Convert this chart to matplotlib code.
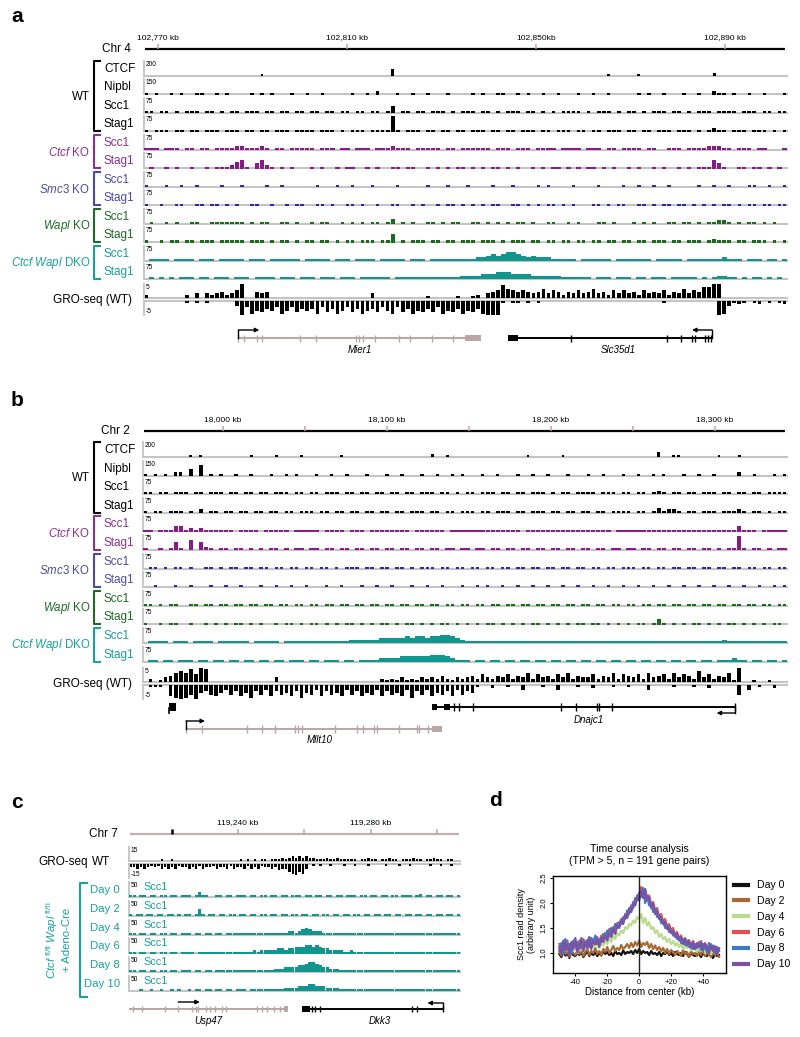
"""Genome browser tracks (a-c) and a Scc1 time-course metaplot (d)."""
import matplotlib.pyplot as plt
from matplotlib.lines import Line2D
import numpy as np

plt.rcParams["font.family"] = ["Liberation Sans", "DejaVu Sans"]
plt.rcParams["mathtext.fontset"] = "custom"
plt.rcParams["mathtext.rm"] = "Liberation Sans"
plt.rcParams["mathtext.it"] = "Liberation Sans:italic"
plt.rcParams["mathtext.bf"] = "Liberation Sans:bold"

# ---------------------------------------------------------------- data ----
# signal strings: one digit per genomic bin, 0 (empty) .. 9 (track full scale)
TRACK_NAMES = ["CTCF", "Nipbl", "Scc1", "Stag1", "Scc1", "Stag1",
               "Scc1", "Stag1", "Scc1", "Stag1", "Scc1", "Stag1"]
TRACK_SCALES = ["200", "150", "75", "75", "75", "75", "75", "75", "75", "75", "75", "75"]
GROUP_NAMES = ["WT", r"$\mathit{Ctcf}$ KO", r"$\mathit{Smc3}$ KO",
               r"$\mathit{Wapl}$ KO", r"$\mathit{Ctcf\ Wapl}$ DKO"]
GROUP_SIZES = [4, 2, 2, 2, 2]

# panel a, chr4
A_SPAN = (102767.0, 102903.1)
A_TICKS = [102770, 102810, 102850, 102890]
A_TICK_LABELS = ["102,770 kb", "102,810 kb", "102,850kb", "102,890 kb"]
A_SIGNAL = [
    "00000000000000000000000100000000" "00000000000000000400000000000000" "00000000000000000000000000001000" "00100000000000000200000000000000",
    "10100101001100101000010101000100" "10010000010010200010010010001000" "01010011001010010010001001001000" "00101001000100100211010010010001",
    "11011010111011010110111011011011" "01101101101101101401101101110101" "11011010111011010101111010111010" "11010111011010111011110111011011",
    "10111011011011101110110110111011" "11011101011101111910111011011011" "01110110110111011011101101101110" "11011011101110101211011101110101",
    "11101110110110111122111210110111" "11011101101110111211101111101101" "11111011101110111101111011101101" "11101100111011112221101110110001",
    "01001010010010111245103521010100" "01010010110010100110110010101011" "01010110101001010110101011010100" "10100101001010111531001101101010",
    "10001001001000010001000010010000" "00100010010001000010000010001000" "10000100010000101000010000100001" "00100100100000100100100011001001",
    "10010011001101101010011001001011" "00110100110100100110010100101101" "01010110011010101101010001101011" "00110101101101010101101011011011",
    "01001010011001111111010110011010" "01011001010101101301010011010110" "01101010101101001100101000110100" "01010100110110101122101011010100",
    "10010110110111011111011101011010" "11011010110111011501011101101101" "11011101011101101101101101101101" "10110111011011101211101101110101",
    "01111011110111011111011101111110" "11111011101111011111011101111111" "11223434554323222111110111111011" "11111011111011111112111011101101",
    "01010101110110111011101111011101" "11011101110111111011111111111112" "22233344433332222221111110111011" "10110111011111010122110101101010",
]
A_GRO_POS = "20000000203032342359004340000000" "00000000000003000000000010000010" "01203458654543463542435346342535" "34253435243635477990000000000000"
A_GRO_NEG = "00000000101010000039486756486475" "65847586475865746847586757486758" "67589991011010100000000000000000" "00000001000000000098312101201012"
MIER1 = dict(start=102787.0, end=102838.3, utr=(102835.0, 102838.3),
             exons=[102787.0, 102788.2, 102790.9, 102791.9, 102800.0, 102803.4, 102811.9,
                    102812.6, 102813.4, 102815.9, 102821.0, 102823.3, 102828.0, 102832.4])
SLC35D1 = dict(start=102844.1, end=102887.2, utr=(102844.1, 102846.2),
               exons=[102857.4, 102877.7, 102880.7, 102883.0, 102883.7, 102885.8, 102886.3, 102887.0])

# panel b, chr2
B_SPAN = (17951.2, 18343.9)
B_TICKS = [18000, 18050, 18100, 18150, 18200, 18250, 18300]
B_TICK_LABELS = ["18,000 kb", "", "18,100 kb", "", "18,200 kb", "", "18,300 kb"]
B_SIGNAL = [
    "00000000010100000000010000100001" "00000001000000000000000002001000" "00000000000010000001000000000000" "00000030011000000010001000000000",
    "10101022040601010010010001001010" "00100100100010001001000100100101" "00010010001001001000100010010001" "00100101000100100100002001000101",
    "11011011101101110110110110111011" "01101110110110110110110111011010" "11011101101101110101101111011101" "10110121011011011101101101101111",
    "10110111010201101101101101101101" "11011011011011011011011101101101" "11011011101101110110110110110111" "10110131221011011101112101101011",
    "11011133121211111101111011111011" "11101111011101111111101111110111" "11111111111011111111111111111011" "11111111111111111111113111011111",
    "10010151060521011011010101101011" "01101101101101101101101101101101" "10110110110110110110110110110110" "11011011011011011010118101101011",
    "01101011010011010110110110110110" "11011010111011011011010111011011" "01101101101101101101101101101101" "11011011011011011011011011011011",
    "00100010010001001001000100100100" "10001001000100100100010010010001" "00101001001001001001001001001001" "00100100100100100100100100100101",
    "11010110011011011011011011011011" "01101101101101101101101101101101" "10110110110110110110110110110110" "11011011011011011011011011011011",
    "10010110010010101011010100101101" "01101010110101011010110101011010" "10101101010101101010101101101010" "10110131010101101010110101010110",
    "01111011101111011111101111101111" "11111111122222233333434434455432" "11111111111111111111111111111111" "11111111111111111112111111111111",
    "01101101110110110110110110110111" "01101110110111122223333334443211" "10110110110110110110110110110110" "11011011011011011011121101101101",
]
B_GRO_POS = "02013467685980000000000000300000" "00000000000000021213121323242132" "34253243524362534253624335243625" "43526345263542735243619001001000"
B_GRO_NEG = "01110789869546753647584637465748" "56374657364756374657384637564736" "45100200100300010030001002000100" "10003000010001002000006030100200"
SMALL_GENE = (17967.0, 17971.3)
MLLT10 = dict(start=17977.4, end=18133.5, utr=(18127.4, 18133.5),
              exons=[17977.4, 17987.2, 18014.6, 18023.8, 18031.7, 18043.9, 18045.7, 18048.2, 18068.3,
                     18081.7, 18085.4, 18092.1, 18093.9, 18107.3, 18118.3, 18119.5, 18125.0])
DNAJC1 = dict(start=18127.4, end=18312.2, utr=(18127.4, 18130.5), utr2=(18134.8, 18138.4),
              exons=[18140.9, 18143.9, 18152.4, 18206.1, 18215.2, 18228.0, 18229.3, 18237.2, 18312.2])

# panel c, chr7 time course
C_SPAN = (119207.2, 119306.8)
C_TICKS = [119240, 119260, 119280, 119300]
C_TICK_LABELS = ["119,240 kb", "", "119,280 kb", ""]
C_MARK = 119220
DAYS = ["Day 0", "Day 2", "Day 4", "Day 6", "Day 8", "Day 10"]
C_SIGNAL = [
    "11011011011011011101311001101101" "11011011011011011101101101101101" "11011011011011011101201101101101",
    "10110110110110101101410110110110" "11011011011011011011011011011011" "01101101101101101101101101101101",
    "11011011011011011101101101101111" "11111111111111221234322211111111" "11111111111111111111111111111111",
    "11011011011011011110111111111111" "11112122222332334445545433222211" "21111111111111111111111111111111",
    "11011011011011011101101101111111" "11111111112223333445665433222111" "11111111111111111111111111111111",
    "00010010010010100101101101101101" "11011111111112222333443332222111" "11111111111111111111111111111111",
]
C_GRO_POS = "00000000010010000000000000000000" "10101011011121232323221112112111" "11011211011211011121101121101100"
C_GRO_NEG = "22323212132323122323132213223132" "23132312232433567563010100100010" "01000100001000100100000100100100"
USP47 = dict(start=119207.2, end=119255.0, utr=(119253.8, 119255.0),
             exons=[119208.4, 119211.1, 119218.0, 119222.0, 119226.2, 119227.4, 119228.0, 119230.4,
                    119231.6, 119233.1, 119235.2, 119236.4, 119245.7, 119247.2, 119248.7, 119250.8, 119252.6])
DKK3 = dict(start=119259.2, end=119301.7, utr=(119259.2, 119261.7),
            exons=[119262.3, 119263.2, 119264.7, 119292.3, 119293.8, 119301.7])

# panel d, Scc1 density around convergent gene pairs (values x 100)
D_DAYS = ["Day 0", "Day 2", "Day 4", "Day 6", "Day 8", "Day 10"]
DAY0 = [98, 92, 104, 95, 100, 90, 102, 96, 94, 100, 96, 102, 92, 98, 104, 94, 100, 96, 102, 94,
        100, 95, 104, 98, 102, 96, 100, 94, 104, 98, 100, 96, 105, 98, 102, 100, 104, 98, 106, 100,
        108, 98, 104, 100, 102, 96, 104, 98, 100, 96, 102, 94, 100, 98, 104, 96, 100, 94, 102, 98,
        96, 100, 94, 102, 98, 92, 100, 96, 94, 100, 98, 92, 100, 96, 94, 102, 96, 90, 98, 94, 96]
DAY2 = [102, 95, 108, 98, 104, 92, 106, 100, 96, 104, 98, 106, 94, 102, 108, 96, 104, 100, 110, 98,
        104, 96, 108, 102, 112, 100, 106, 114, 104, 110, 106, 116, 108, 112, 118, 110, 120, 112, 122, 115,
        125, 112, 120, 116, 122, 110, 118, 108, 115, 106, 112, 104, 110, 100, 108, 98, 106, 102, 96, 104,
        100, 94, 106, 98, 102, 92, 104, 98, 100, 94, 102, 96, 108, 94, 100, 98, 92, 104, 96, 100, 92]
DAY4 = [108, 100, 115, 104, 112, 98, 118, 105, 110, 100, 112, 105, 118, 108, 115, 110, 120, 112, 118, 115,
        110, 120, 115, 125, 118, 130, 122, 135, 128, 140, 135, 145, 140, 152, 148, 158, 155, 165, 160, 172,
        168, 178, 160, 170, 155, 162, 148, 152, 140, 145, 132, 138, 128, 132, 122, 128, 118, 124, 115, 120,
        112, 118, 108, 115, 110, 120, 105, 112, 108, 102, 110, 104, 115, 100, 108, 112, 98, 106, 110, 100, 104]
DAY6 = [118, 102, 115, 108, 125, 100, 118, 112, 120, 105, 125, 110, 128, 118, 122, 130, 115, 128, 122, 132,
        120, 135, 128, 140, 130, 148, 140, 152, 145, 160, 155, 168, 162, 178, 172, 190, 185, 202, 198, 212,
        218, 232, 215, 225, 208, 215, 196, 202, 185, 190, 170, 178, 162, 168, 152, 158, 145, 150, 135, 142,
        128, 135, 120, 130, 118, 126, 112, 124, 110, 120, 115, 124, 108, 120, 112, 104, 118, 106, 114, 100, 110]
DAY8 = [105, 120, 100, 128, 110, 118, 98, 125, 112, 122, 108, 130, 115, 122, 126, 112, 130, 120, 135, 118,
        128, 122, 138, 130, 145, 135, 150, 142, 158, 150, 162, 158, 172, 168, 185, 178, 195, 190, 210, 205,
        220, 212, 230, 200, 215, 195, 200, 182, 188, 172, 175, 160, 165, 150, 155, 142, 146, 135, 140, 128,
        132, 120, 128, 116, 125, 112, 120, 108, 118, 110, 122, 106, 118, 112, 102, 120, 108, 115, 100, 112, 104]
DAY10 = [112, 98, 125, 105, 118, 95, 122, 108, 130, 101, 115, 126, 104, 120, 110, 132, 108, 124, 117, 128,
         112, 130, 122, 135, 125, 140, 132, 148, 138, 155, 150, 165, 158, 175, 170, 188, 182, 200, 195, 215,
         205, 225, 210, 228, 205, 212, 190, 198, 178, 184, 168, 172, 158, 162, 148, 152, 140, 144, 132, 138,
         125, 132, 118, 128, 115, 124, 110, 122, 108, 118, 112, 120, 105, 118, 110, 100, 115, 104, 112, 98, 108]

# ------------------------------------------------------------- styles ----
GRAY = "#c4c4c4"
PINK = "#c9a3a3"
GENE_GRAY = "#b9a6a6"
LABEL_COLORS = ["black", "#8e2f8e", "#4a4aaa", "#1e6a26", "#18a09a"]
SIGNAL_COLORS = ["black", "#8a1a8a", "#2b2b9e", "#1a6b1a", "#10968f"]
BAR_WIDTHS = [0.55, 0.7, 0.75, 0.75, 0.85, 0.85, 0.7, 0.7, 0.75, 0.75, 1.0, 1.0]
TEAL = "#18a09a"
D_COLORS = ["#111111", "#a86a35", "#b8dc8c", "#e05050", "#3b7cc4", "#7b52a6"]

W, H = 800, 1037
fig = plt.figure(figsize=(W / 100, H / 100), dpi=100)

# overlay in pixel coordinates for labels and brackets
ov = fig.add_axes([0, 0, 1, 1])
ov.set_xlim(0, W)
ov.set_ylim(H, 0)
ov.set_axis_off()


def px_axes(x0, y0, x1, y1):
    ax = fig.add_axes([x0 / W, 1 - y1 / H, (x1 - x0) / W, (y1 - y0) / H])
    ax.set_axis_off()
    return ax


def track(x0, x1, base, span, levels, color, scale, h=16, down=False, width=1.0):
    v = np.array([int(c) for c in levels], dtype=float)
    edges = np.linspace(span[0], span[1], len(v) + 1)
    step = edges[1] - edges[0]
    on = v > 0
    left = edges[:-1][on] + step * (1 - width) / 2
    if down:
        ax = px_axes(x0, base - 1, x1, base + h)
        ax.set_ylim(-9, 0.6)
        ax.bar(left, -(v[on] * 0.95 + 0.2), bottom=0.2,
               width=step * width, align="edge", color=color, linewidth=0, zorder=3)
        ax.vlines(span[0], -9, 0, color=GRAY, lw=1.3, clip_on=False)
        ov.text(x0 + 2, base + h - 1, scale, fontsize=4.8, va="bottom", ha="left")
    else:
        ax = px_axes(x0, base - h, x1, base + 1)
        ax.set_ylim(-0.6, 9)
        ax.bar(left, v[on] * 0.95 + 0.2, bottom=-0.2,
               width=step * width, align="edge", color=color, linewidth=0, zorder=3)
        ax.vlines(span[0], 0, 9, color=GRAY, lw=1.3, clip_on=False)
        ov.text(x0 + 2, base - h + 1, scale, fontsize=4.8, va="top", ha="left")
    ax.set_xlim(span)
    ax.axhline(0, color=GRAY, lw=1.5, zorder=1, clip_on=False)
    return ax


def chrom_axis(x0, x1, y, span, ticks, labels, chrom, line_color="black", mark=None, chrom_x=None):
    ax = px_axes(x0, y - 20, x1, y + 3)
    ax.set_xlim(span)
    ax.set_ylim(y + 3, y - 20)
    ax.plot([span[0] + (span[1] - span[0]) * 0.002, span[1] - (span[1] - span[0]) * 0.003], [y, y],
            color=line_color, lw=1.6, solid_capstyle="butt")
    ax.vlines(ticks, y - 5, y, color=PINK, lw=1.1)
    for t, lab in zip(ticks, labels):
        ax.text(t, y - 11, lab, ha="center", va="center", fontsize=6.0)
    if mark is not None:
        ax.vlines([mark], y - 5, y, color="black", lw=1.8)
    ov.text(chrom_x if chrom_x else x0 - 13, y, chrom, ha="right", va="center", fontsize=8.5)


def gene(ax, g, y, color, half=3.5, label=None, label_y=None, label_x=None):
    ax.plot([g["start"], g["end"]], [y, y], color=color, lw=1.4, solid_capstyle="butt")
    ax.vlines(g["exons"], y - half, y + half, color=color, lw=1.0)
    for key in ("utr", "utr2"):
        if key in g:
            a, b = g[key]
            ax.fill_between([a, b], y - 3, y + 3, color=color, linewidth=0)
    if label:
        lx = label_x if label_x is not None else (g["start"] + g["end"]) / 2
        ax.text(lx, label_y, label, ha="center", va="center", fontsize=7, style="italic")


def tss_arrow(ax, x, tip, y_gene, y_arrow, color="black"):
    ax.plot([x, x], [y_gene, y_arrow], color=color, lw=1.0)
    ax.annotate("", xy=(tip, y_arrow), xytext=(x, y_arrow),
                arrowprops=dict(arrowstyle="-|>", color=color, lw=1.0,
                                mutation_scale=6, shrinkA=0, shrinkB=0))


def locus_tracks(x0, x1, span, bases, signals, gro_top, gro_pos, gro_neg, gro_scale):
    idx = 0
    for g, size in enumerate(GROUP_SIZES):
        ys = []
        for _ in range(size):
            base = bases[idx]
            track(x0, x1, base, span, signals[idx], SIGNAL_COLORS[g], TRACK_SCALES[idx],
                  width=BAR_WIDTHS[idx])
            ov.text(104, base - 7, TRACK_NAMES[idx], ha="left", va="center",
                    fontsize=8.5, color=LABEL_COLORS[g])
            ys.append(base - 7)
            idx += 1
        top, bot = ys[0] - 8, ys[-1] + 7
        ov.plot([100, 94, 94, 100], [top, top, bot, bot], color=LABEL_COLORS[g], lw=1.5)
        ov.text(90, (ys[0] + ys[-1]) / 2, GROUP_NAMES[g], ha="right", va="center",
                fontsize=8.3, color=LABEL_COLORS[g])
    track(x0, x1, gro_top + 15, span, gro_pos, "black", gro_scale[0], h=15, width=0.72)
    track(x0, x1, gro_top + 18, span, gro_neg, "black", gro_scale[1], h=15, down=True, width=0.72)
    ov.text(132, gro_top + 16.5, "GRO-seq (WT)", ha="right", va="center", fontsize=8.5)


# ------------------------------------------------------------ panel a ----
ov.text(17, 17, "a", fontsize=15, fontweight="bold", ha="center", va="center")
chrom_axis(144, 787, 49, A_SPAN, A_TICKS, A_TICK_LABELS, "Chr 4")
locus_tracks(144, 787, A_SPAN, [76 + 18.47 * i for i in range(12)], A_SIGNAL,
             283, A_GRO_POS, A_GRO_NEG, ("5", "-5"))
ga = px_axes(144, 320, 787, 360)
ga.set_xlim(A_SPAN)
ga.set_ylim(360, 320)
gene(ga, MIER1, 338, GENE_GRAY, label="Mier1", label_y=350)
tss_arrow(ga, MIER1["start"], 102791.4, 338, 330)
gene(ga, SLC35D1, 338, "black", label="Slc35d1", label_y=350, label_x=102867.4)
tss_arrow(ga, SLC35D1["end"], 102883.0, 338, 330)

# ------------------------------------------------------------ panel b ----
ov.text(17, 401, "b", fontsize=15, fontweight="bold", ha="center", va="center")
chrom_axis(143, 787, 431, B_SPAN, B_TICKS, B_TICK_LABELS, "Chr 2")
locus_tracks(143, 787, B_SPAN, [457 + 18.6 * i for i in range(12)], B_SIGNAL,
             667, B_GRO_POS, B_GRO_NEG, ("5", "-5"))
gb = px_axes(143, 700, 787, 748)
gb.set_xlim(B_SPAN)
gb.set_ylim(748, 700)
gb.fill_between(SMALL_GENE, 703, 711, color="black", linewidth=0)
gb.plot([SMALL_GENE[0], SMALL_GENE[0]], [708, 713], color="black", lw=1.2)
gene(gb, MLLT10, 729, GENE_GRAY, half=4, label="Mllt10", label_y=740, label_x=18059.0)
tss_arrow(gb, MLLT10["start"], 17989.0, 729, 721)
gene(gb, DNAJC1, 707, "black", half=4, label="Dnajc1", label_y=720, label_x=18223.0)
tss_arrow(gb, DNAJC1["end"], 18301.0, 707, 713)

# ------------------------------------------------------------ panel c ----
ov.text(17, 802, "c", fontsize=15, fontweight="bold", ha="center", va="center")
chrom_axis(129, 460, 834, C_SPAN, C_TICKS, C_TICK_LABELS, "Chr 7", line_color="#c2aeae",
           mark=C_MARK, chrom_x=118)
track(129, 460, 861, C_SPAN, C_GRO_POS, "black", "15", h=15, width=0.7)
track(129, 460, 864, C_SPAN, C_GRO_NEG, "black", "-15", h=15, down=True, width=0.7)
ov.text(38, 862, "GRO-seq", ha="left", va="center", fontsize=8.5)
ov.text(92, 862, "WT", ha="left", va="center", fontsize=8.5)
c_bases = [897 + 18.8 * i for i in range(6)]
for base, day, sig in zip(c_bases, DAYS, C_SIGNAL):
    track(129, 460, base, C_SPAN, sig, "#10968f", "50", width=0.95)
    ov.text(143, base - 10, "Scc1", ha="left", va="center", fontsize=7.8, color=TEAL)
    ov.text(120, base - 7, day, ha="right", va="center", fontsize=8.2, color=TEAL)
ov.plot([87, 80, 80, 87], [883, 883, 997, 997], color=TEAL, lw=1.5)
ov.text(58, 940, r"$\mathit{Ctcf}^{\ \mathrm{fl/fl}}\ \mathit{Wapl}^{\ \mathrm{fl/fl}}$" + "\n+ Adeno-Cre",
        rotation=90, ha="center", va="center", fontsize=8.2, color=TEAL, linespacing=1.25)
gc = px_axes(129, 995, 460, 1030)
gc.set_xlim(C_SPAN)
gc.set_ylim(1030, 995)
gene(gc, USP47, 1009, GENE_GRAY, half=3, label="Usp47", label_y=1021, label_x=119231.0)
gc.annotate("", xy=(119228.5, 1002), xytext=(119222.0, 1002),
            arrowprops=dict(arrowstyle="-|>", color="black", lw=1.0, mutation_scale=6,
                            shrinkA=0, shrinkB=0))
gene(gc, DKK3, 1009, "black", half=3, label="Dkk3", label_y=1021, label_x=119282.7)
tss_arrow(gc, DKK3["end"], 119297.0, 1009, 1003)

# ------------------------------------------------------------ panel d ----
ov.text(496, 800, "d", fontsize=15, fontweight="bold", ha="center", va="center")
ad = fig.add_axes([553 / W, 1 - 973 / H, (726 - 553) / W, (973 - 876) / H])
dist = np.linspace(-50, 50, len(DAY0))
for vals, lab, col in zip([DAY0, DAY2, DAY4, DAY6, DAY8, DAY10], D_DAYS, D_COLORS):
    ad.plot(dist, np.array(vals) / 100, color=col, lw=1.6, label=lab)
ad.axvline(0, color="#222222", lw=1.0)
ad.set_xlim(-54, 54.4)
ad.set_ylim(0.6, 2.54)
ad.set_xticks([-40, -20, 0, 20, 40])
ad.set_xticklabels(["-40", "-20", "0", "+20", "+40"])
ad.set_yticks([1.0, 1.5, 2.0, 2.5])
ad.tick_params(labelsize=5.5, length=2.5, width=0.8, pad=1.5)
for t in ad.get_yticklabels():
    t.set_rotation(90)
    t.set_va("center")
for s in ad.spines.values():
    s.set_linewidth(1.0)
ad.set_xlabel("Distance from center (kb)", fontsize=7, labelpad=1)
ad.set_ylabel("Scc1 read density\n(arbitrary unit)", fontsize=6.5, labelpad=3)
ad.set_title("Time course analysis\n(TPM > 5, n = 191 gene pairs)", fontsize=7.6, pad=9)
handles = [Line2D([], [], color=c, lw=3) for c in D_COLORS]
ad.legend(handles, D_DAYS, loc="upper left", bbox_to_anchor=(1.02, 1.0), frameon=False,
          fontsize=7.6, handlelength=1.4, handletextpad=0.8, labelspacing=0.55, borderaxespad=0)

fig.savefig("out.png", dpi=100)
